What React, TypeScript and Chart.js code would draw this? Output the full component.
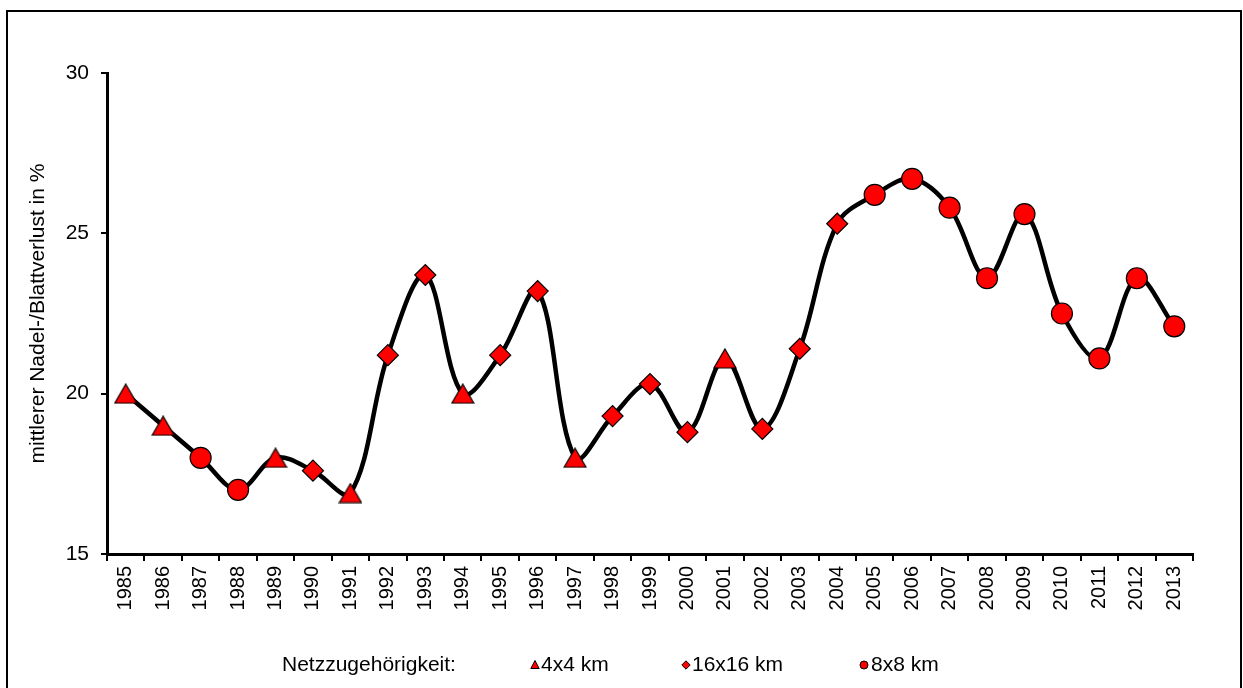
import React, { useEffect, useRef } from "react";
import { Chart, registerables } from "chart.js";

Chart.register(...registerables);

const years = [
  "1985", "1986", "1987", "1988", "1989", "1990", "1991", "1992", "1993", "1994",
  "1995", "1996", "1997", "1998", "1999", "2000", "2001", "2002", "2003", "2004",
  "2005", "2006", "2007", "2008", "2009", "2010", "2011", "2012", "2013",
];

const lossValues = [
  20.0, 19.0, 18.0, 17.0, 18.0, 17.6, 16.9, 21.2, 23.7, 20.0,
  21.2, 23.2, 18.0, 19.3, 20.3, 18.8, 21.1, 18.9, 21.4, 25.3,
  26.2, 26.7, 25.8, 23.6, 25.6, 22.5, 21.1, 23.6, 22.1,
];

const gridNet = [
  "4x4", "4x4", "8x8", "8x8", "4x4", "16x16", "4x4", "16x16", "16x16", "4x4",
  "16x16", "16x16", "4x4", "16x16", "16x16", "16x16", "4x4", "16x16", "16x16", "16x16",
  "8x8", "8x8", "8x8", "8x8", "8x8", "8x8", "8x8", "8x8", "8x8",
];

const yTicks = [15, 20, 25, 30];

const yTitle = "mittlerer Nadel-/Blattverlust in %";
const legendTitle = "Netzzugehörigkeit:";
const netKeys = ["4x4", "16x16", "8x8"];
const netLabels = ["4x4 km", "16x16 km", "8x8 km"];
const netStyles = ["triangle", "rectRot", "circle"];

const FONT = "Arial, 'Liberation Sans', sans-serif";

function seriesFor(key: string) {
  return lossValues.map((v, i) => (gridNet[i] === key ? v : null));
}

function makeTriangle(w: number, h: number): HTMLCanvasElement {
  const c = document.createElement("canvas");
  c.width = w + 2;
  c.height = h + 2;
  const g = c.getContext("2d")!;
  g.beginPath();
  g.moveTo(c.width / 2, 1);
  g.lineTo(w + 1, h + 1);
  g.lineTo(1, h + 1);
  g.closePath();
  g.fillStyle = "#FF0000";
  g.fill();
  g.lineWidth = 1.2;
  g.strokeStyle = "#000";
  g.lineJoin = "miter";
  g.stroke();
  return c;
}

const frameAndLegend = {
  id: "frameAndLegend",
  afterDraw(chart: any) {
    const ctx = chart.ctx;
    ctx.save();
    ctx.strokeStyle = "#000";
    ctx.lineWidth = 2;
    ctx.strokeRect(7, 11, 1234, 700);

    ctx.fillStyle = "#000";
    ctx.font = `21px ${FONT}`;
    ctx.textBaseline = "middle";
    ctx.textAlign = "left";
    const ly = 665;
    ctx.fillText(legendTitle, 282, ly);

    const markerX = [535, 686, 864];
    const textX = [541, 692, 871];
    for (let k = 0; k < netKeys.length; k++) {
      const x = markerX[k];
      ctx.beginPath();
      if (netStyles[k] === "triangle") {
        ctx.moveTo(x, ly - 4.5);
        ctx.lineTo(x + 4.2, ly + 3.5);
        ctx.lineTo(x - 4.2, ly + 3.5);
        ctx.closePath();
      } else if (netStyles[k] === "rectRot") {
        ctx.moveTo(x, ly - 4.2);
        ctx.lineTo(x + 4.2, ly);
        ctx.lineTo(x, ly + 4.2);
        ctx.lineTo(x - 4.2, ly);
        ctx.closePath();
      } else {
        ctx.arc(x, ly, 4, 0, Math.PI * 2);
      }
      ctx.fillStyle = "#FF0000";
      ctx.fill();
      ctx.lineWidth = 1;
      ctx.strokeStyle = "#000";
      ctx.stroke();
      ctx.fillStyle = "#000";
      ctx.fillText(netLabels[k], textX[k], ly);
    }
    ctx.restore();
  },
};

export default function App() {
  const ref = useRef<HTMLCanvasElement | null>(null);

  useEffect(() => {
    if (!ref.current) return;
    const triImg = makeTriangle(22, 19);
    const markerSets = netKeys.map((key, k) => ({
      label: netLabels[k],
      data: seriesFor(key),
      showLine: false,
      pointStyle: netStyles[k] === "triangle" ? triImg : netStyles[k],
      pointRadius: netStyles[k] === "rectRot" ? 10.5 : 10.5,
      pointBackgroundColor: "#FF0000",
      pointBorderColor: "#000",
      pointBorderWidth: 1.2,
      borderColor: "#000",
      backgroundColor: "#FF0000",
      order: 1,
    }));
    const chart = new Chart(ref.current, {
      type: "line",
      data: {
        labels: years,
        datasets: [
          ...markerSets,
          {
            label: "Verlauf",
            data: lossValues,
            borderColor: "#000",
            borderWidth: 4.5,
            pointRadius: 0,
            tension: 0.35,
            fill: false,
            order: 5,
          },
        ] as any,
      },
      options: {
        responsive: false,
        animation: false,
        devicePixelRatio: 1,
        layout: { padding: { left: 0, right: 50, top: 73, bottom: 0 } },
        plugins: {
          legend: { display: false },
          tooltip: { enabled: false },
        },
        scales: {
          x: {
            type: "category",
            offset: true,
            grid: {
              offset: true,
              drawOnChartArea: false,
              drawTicks: true,
              tickLength: 7,
              color: "#000",
              lineWidth: 2,
            },
            border: { display: true, color: "#000", width: 3 },
            ticks: {
              autoSkip: false,
              minRotation: 90,
              maxRotation: 90,
              padding: 5,
              color: "#000",
              font: { family: FONT, size: 20 },
            },
            afterFit(scale: any) {
              scale.height = 134;
            },
          },
          y: {
            min: 15,
            max: 30,
            afterBuildTicks(scale: any) {
              scale.ticks = yTicks.map((v) => ({ value: v }));
            },
            grid: {
              drawOnChartArea: false,
              drawTicks: true,
              tickLength: 6,
              color: "#000",
              lineWidth: 2,
            },
            border: { display: true, color: "#000", width: 3 },
            ticks: {
              padding: 12,
              color: "#000",
              font: { family: FONT, size: 21 },
            },
            title: {
              display: true,
              text: yTitle,
              color: "#000",
              font: { family: FONT, size: 21 },
              padding: { top: 26, bottom: 0 },
            },
            afterFit(scale: any) {
              scale.width = 107;
            },
          },
        },
      },
      plugins: [frameAndLegend],
    });
    return () => chart.destroy();
  }, []);

  return (
    <div style={{ position: "absolute", left: 0, top: 0, width: 1243, height: 688, background: "#fff" }}>
      <canvas ref={ref} width={1243} height={688} style={{ display: "block" }} />
    </div>
  );
}
